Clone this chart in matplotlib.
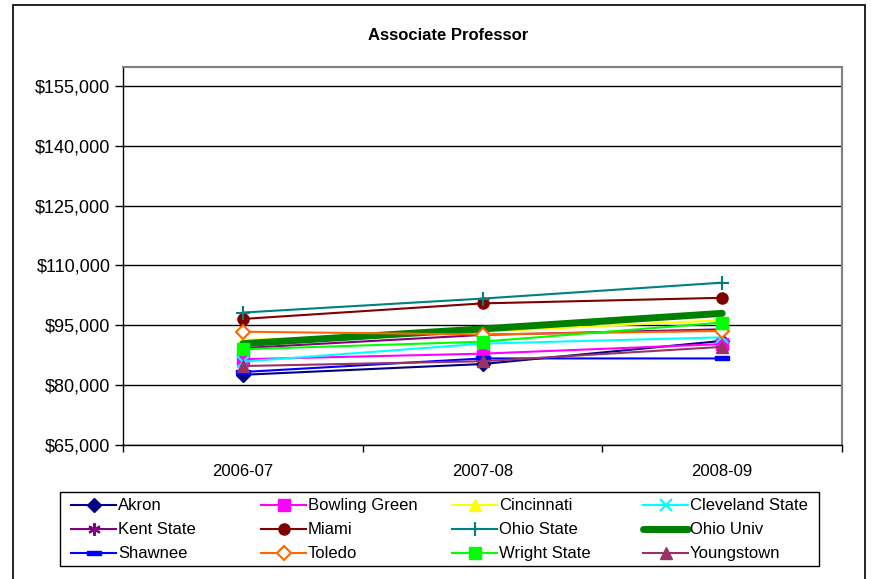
import matplotlib.pyplot as plt
from matplotlib.patches import Rectangle

plt.rcParams['font.family'] = ['Liberation Sans', 'DejaVu Sans']

years = ['2006-07', '2007-08', '2008-09']

akron = [82600, 85300, 91100]
bowling_green = [86500, 87900, 90300]
cincinnati = [91300, 93400, 96300]
cleveland_state = [85900, 90400, 92000]
kent_state = [89300, 92600, 94000]
miami = [96600, 100500, 101900]
ohio_state = [98200, 101700, 105700]
ohio_univ = [90400, 94100, 98000]
shawnee = [83300, 86700, 86700]
toledo = [93400, 92700, 93600]
wright_state = [89000, 90900, 95700]
youngstown = [84800, 86000, 89600]

y_ticks = [65000, 80000, 95000, 110000, 125000, 140000, 155000]

dash = [(-1, -0.3), (1, -0.3), (1, 0.3), (-1, 0.3), (-1, -0.3)]

series = [
    ('Akron', akron, dict(color='#000080', marker='D', ms=7)),
    ('Bowling Green', bowling_green, dict(color='#FF00FF', marker='s', ms=8)),
    ('Cincinnati', cincinnati, dict(color='#FFFF00', marker='^', ms=8)),
    ('Cleveland State', cleveland_state, dict(color='#00FFFF', marker='x', ms=8, mew=1.5)),
    ('Kent State', kent_state, dict(color='#800080', marker=(6, 2, 0), ms=9, mew=1.5)),
    ('Miami', miami, dict(color='#800000', marker='o', ms=8)),
    ('Ohio State', ohio_state, dict(color='#008080', marker='+', ms=10, mew=1.5)),
    ('Ohio Univ', ohio_univ, dict(color='#008000', lw=5, solid_capstyle='round')),
    ('Shawnee', shawnee, dict(color='#0000FF', marker=dash, ms=10)),
    ('Toledo', toledo, dict(color='#FF6600', marker='D', ms=7, mfc='white', mew=1.5)),
    ('Wright State', wright_state, dict(color='#00FF00', marker='s', ms=8)),
    ('Youngstown', youngstown, dict(color='#993366', marker='^', ms=8)),
]

fig = plt.figure(figsize=(8.71, 5.79), dpi=100)
ax = fig.add_axes([123 / 871, 1 - 445 / 579, 719 / 871, 378 / 579])

x = list(range(len(years)))
handles = []
for i, (name, vals, style) in enumerate(series):
    style = dict(style)
    lw = style.pop('lw', 1.5)
    h, = ax.plot(x, vals, lw=lw, label=name, zorder=3 + i, **style)
    handles.append(h)

ax.set_xlim(-0.5, 2.5)
ax.set_ylim(65000, 159760)
ax.set_yticks(y_ticks)
ax.set_yticklabels(['${:,}'.format(v) for v in y_ticks])
ax.set_xticks(x)
ax.set_xticklabels(years)
ax.set_xticks([-0.5, 0.5, 1.5, 2.5], minor=True)
ax.tick_params(axis='x', which='major', length=0, pad=14, labelsize=12)
ax.tick_params(axis='x', which='minor', length=5, width=1, direction='out')
ax.tick_params(axis='y', length=6, width=1, direction='out', labelsize=13, pad=3)
ax.yaxis.grid(True, color='black', lw=1)
ax.set_axisbelow(True)
for side in ['top', 'right']:
    ax.spines[side].set_color('#808080')
    ax.spines[side].set_linewidth(1.5)
for side in ['left', 'bottom']:
    ax.spines[side].set_color('black')
    ax.spines[side].set_linewidth(1)

fig.text(448 / 871, 1 - 36 / 579, 'Associate Professor', ha='center', va='center',
         fontsize=12, fontweight='bold')

# legend: 4 columns, filled row-wise like Excel
col_x = [58, 248, 439, 630]
for c in range(4):
    hs = [handles[c + 4 * r] for r in range(3)]
    fig.legend(hs, [h.get_label() for h in hs], loc='upper left',
               bbox_to_anchor=(col_x[c] / 871, 1 - 485 / 579),
               frameon=False, fontsize=12, handlelength=2.7,
               handletextpad=0.1, labelspacing=0.54, borderpad=0.3)

fig.patches.append(Rectangle((60 / 871, 1 - 566 / 579), 759 / 871, 74 / 579,
                             transform=fig.transFigure, fill=False,
                             edgecolor='black', lw=1))
fig.patches.append(Rectangle((13 / 871, -0.05), 852 / 871, 1.05 - 5 / 579,
                             transform=fig.transFigure, fill=False,
                             edgecolor='black', lw=1.2))

fig.savefig('out.png', dpi=100)
